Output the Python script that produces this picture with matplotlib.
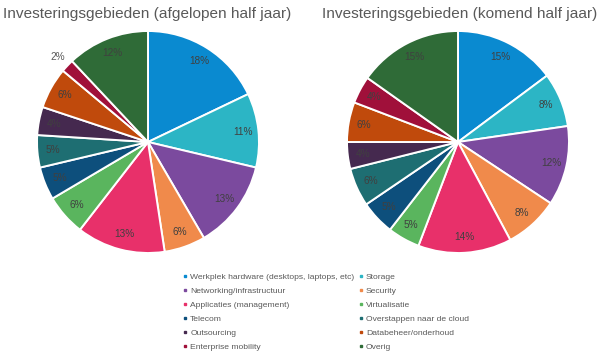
import matplotlib
matplotlib.use('Agg')
import matplotlib.pyplot as plt
from matplotlib.lines import Line2D

plt.rcParams['font.family'] = ['Liberation Sans', 'DejaVu Sans']

categories = ['Werkplek hardware (desktops, laptops, etc)', 'Storage',
              'Networking/infrastructuur', 'Security',
              'Applicaties (management)', 'Virtualisatie',
              'Telecom', 'Overstappen naar de cloud',
              'Outsourcing', 'Databeheer/onderhoud',
              'Enterprise mobility', 'Overig']
colors = ['#0A8AD0', '#2CB5C5', '#7B4A9E', '#F08A4B', '#E8306A', '#5AB55E',
          '#0D4F7C', '#1E6E72', '#45294F', '#C04A0C', '#A0103A', '#2F6B37']

# aandelen in procent
afgelopen = [17.9, 10.8, 12.9, 6.0, 12.9, 6.0, 4.8, 4.7, 4.1, 6.0, 1.9, 12.0]
komend = [14.8, 7.9, 11.6, 7.9, 13.6, 4.7, 5.0, 5.6, 3.9, 5.8, 4.0, 15.2]

titles = ['Investeringsgebieden (afgelopen half jaar)',
          'Investeringsgebieden (komend half jaar)']

fig = plt.figure(figsize=(6, 3.6), dpi=100)

def draw_pie(rect, values):
    ax = fig.add_axes(rect)
    wedges, texts, autotexts = ax.pie(
        values, colors=colors, startangle=90, counterclock=False,
        autopct='%.0f%%', pctdistance=0.86,
        wedgeprops=dict(edgecolor='white', linewidth=1.4),
        textprops=dict(color='#404040', fontsize=7.2))
    for v, w, t in zip(values, wedges, autotexts):
        if v < 3:
            x, y = t.get_position()
            t.set_position((x / 0.86 * 1.12, y / 0.86 * 1.12))
            t.set_color('#595959')
    ax.set_xlim(-1, 1)
    ax.set_ylim(-1, 1)
    ax.set_aspect('equal')
    return ax

draw_pie([37 / 600, 107 / 360, 222 / 600, 222 / 360], afgelopen)
draw_pie([347 / 600, 107 / 360, 222 / 600, 222 / 360], komend)

fig.text(3 / 600, 1 - 14 / 360, titles[0], fontsize=11.1, color='#595959',
         va='center', ha='left')
fig.text(597 / 600, 1 - 14 / 360, titles[1], fontsize=11.1, color='#595959',
         va='center', ha='right')

# legenda: twee kolommen, rijgewijs geordend
order = list(range(0, 12, 2)) + list(range(1, 12, 2))
handles = [Line2D([], [], marker='s', linestyle='', markersize=1.8,
                  color=colors[i]) for i in order]
labels = [categories[i] for i in order]
fig.legend(handles, labels, ncol=2, loc='upper left',
           bbox_to_anchor=(183 / 600, 1 - 273 / 360), frameon=False,
           fontsize=6.1, labelcolor='#595959', handlelength=0.5,
           handletextpad=0.35, columnspacing=0.5, labelspacing=0.72,
           borderaxespad=0, borderpad=0)

fig.savefig('out.png', dpi=100)
